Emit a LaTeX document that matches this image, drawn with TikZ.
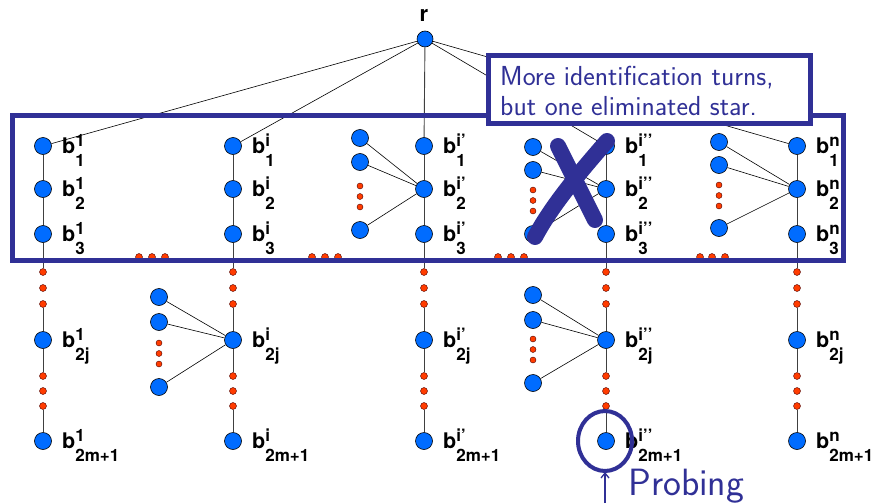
\documentclass[tikz,border=0pt]{standalone}
\usepackage{fontspec}
\newfontfamily\hv{TeX Gyre Heros}
\usetikzlibrary{arrows.meta,shapes.geometric}
\definecolor{dblue}{RGB}{48,48,150}
\definecolor{nblue}{RGB}{0,108,255}
\definecolor{dred}{RGB}{255,60,0}
\newcommand\blab[2]{{\hv\bfseries\fontsize{21.5}{21.5}\selectfont b\rlap{\raisebox{6.8pt}{\fontsize{17}{17}\selectfont #1}}\raisebox{-13.5pt}{\fontsize{17}{17}\selectfont #2}}}
\newcommand\drawstar[7]{%
 \node[bn] (#1a) at (#2,#3) {};
 \node[bn] (#1b) at (#2,#4) {};
 \node[sd] (#1d1) at (#2,#5) {};
 \node[sd] (#1d2) at (#2,#5+10.5) {};
 \node[sd] (#1d3) at (#2,#5+21) {};
 \node[bn] (#1c) at (#2,#6) {};
 \draw[edge] (#1a)--(#7) (#1b)--(#7) (#1c)--(#7);
}
\begin{document}
\begin{tikzpicture}[x=1pt,y=-1pt,
  bn/.style={circle,draw=black,line width=0.6pt,fill=nblue,minimum size=17pt,inner sep=0pt},
  rd/.style={circle,draw=black!70!red,line width=0.4pt,fill=dred,minimum size=7pt,inner sep=0pt},
  sd/.style={rd,minimum size=6pt},
  chain/.style={draw=black!75,line width=0.9pt},
  edge/.style={draw=black,line width=0.6pt},
  lbl/.style={anchor=base west,inner sep=0pt},
  frame/.style={draw=dblue,line width=5pt}]
\useasboundingbox (0,0) rectangle (872,503);

% root
\node[bn,minimum size=16pt] (r) at (425,39) {};
\node[anchor=base,inner sep=0pt,font=\hv\bfseries\fontsize{22}{22}\selectfont] (rl) at (424,22) {r};

% columns
\foreach \k/\x/\s in {1/43/1, 2/233/i, 3/424/i’, 4/606/i’’, 5/797/n} {
 \node[bn] (c\k b1) at (\x,146) {};
 \node[bn] (c\k b2) at (\x,189) {};
 \node[bn] (c\k b3) at (\x,234) {};
 \node[rd] (c\k d1) at (\x,272) {};
 \node[rd] (c\k d2) at (\x,288) {};
 \node[rd] (c\k d3) at (\x,304) {};
 \node[bn] (c\k j) at (\x,340) {};
 \node[rd] (c\k e1) at (\x,376) {};
 \node[rd] (c\k e2) at (\x,391) {};
 \node[rd] (c\k e3) at (\x,406) {};
 \node[bn] (c\k m) at (\x,441) {};
 \draw[chain] (c\k b1)--(c\k b2)--(c\k b3)--(c\k d1) (c\k d3)--(c\k j)--(c\k e1) (c\k e3)--(c\k m);
 \node[lbl] (c\k l1) at (\x+19,153) {\blab{\s}{1}};
 \node[lbl] (c\k l2) at (\x+19,196) {\blab{\s}{2}};
 \node[lbl] (c\k l3) at (\x+19,241) {\blab{\s}{3}};
 \node[lbl] (c\k lj) at (\x+19,347) {\blab{\s}{2j}};
 \node[lbl] (c\k lm) at (\x+19,448) {\blab{\s}{2m+1}};
}

% stars
\drawstar{u3}{360}{138}{162}{186}{230}{c3b2}
\drawstar{u4}{533}{147}{170}{190}{234}{c4b2}
\drawstar{u5}{719}{142}{165}{185}{228}{c5b2}
\drawstar{l2}{159}{297}{322}{343}{387}{c2j}
\drawstar{l4}{533}{295}{320}{339}{383}{c4j}

% dots between columns
\foreach \i/\x in {1/139,2/152,3/165,4/312,5/325,6/338,7/498,8/511,9/524,10/700,11/712,12/725}
 \node[rd] (bd\i) at (\x,257) {};

% root edges
\foreach \k in {1,2,4,5} \draw[edge] (r)--(c\k b1);
\draw[chain] (r)--(c3b1);

% frame
\draw[frame] (12,115) rectangle (843,260);

% callout
\node[frame,fill=white,minimum width=322pt,minimum height=67pt,anchor=north west,inner sep=0pt,outer sep=0pt] (callout) at (488,56) {};
\node[anchor=base west,inner sep=0pt,text=dblue,font=\sffamily\fontsize{27.5}{30}\selectfont] (ct1) at (500,85) {More identification turns,};
\node[anchor=base west,inner sep=0pt,text=dblue,font=\sffamily\fontsize{27.5}{30}\selectfont] (ct2) at (500,115) {but one eliminated star.};

% cross
\draw[dblue,line width=16pt,line cap=round] (558,146) -- (595,220);
\draw[dblue,line width=16pt,line cap=round] (607,141) .. controls (580,172) and (552,205) .. (535,237);

% probing
\node[draw=dblue,line width=4pt,ellipse,minimum width=54pt,minimum height=60pt,inner sep=0pt,outer sep=0pt] (probe) at (605,441) {};
\coordinate (pfrom) at (605,503);
\draw[dblue,line width=1.3pt,-{Straight Barb[length=5pt,width=8pt]},shorten >=1pt] (pfrom) -- (probe.south);
\node[anchor=base west,inner sep=0pt,text=dblue,font=\sffamily\fontsize{38}{42}\selectfont] (prob) at (628,495) {Probing};
\end{tikzpicture}
\end{document}
